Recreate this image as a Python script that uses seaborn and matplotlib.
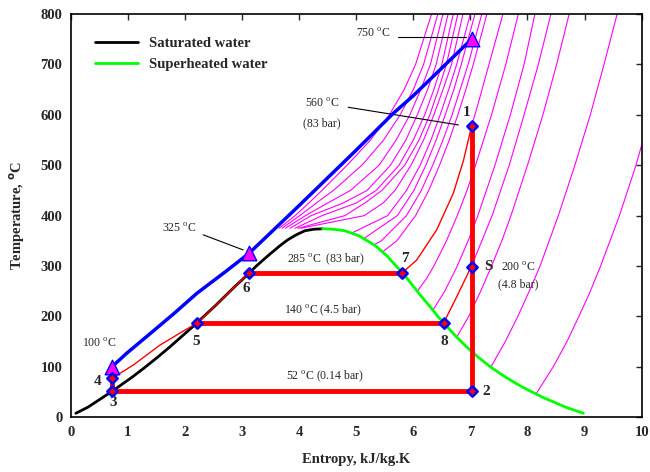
import matplotlib
matplotlib.use("Agg")
import matplotlib.pyplot as plt
import seaborn as sns

# saturation dome
sat_liq_s = [0.09, 0.30, 0.57, 0.83, 1.08, 1.31, 1.53, 1.74, 1.94, 2.14, 2.33, 2.52, 2.70, 2.88, 3.07, 3.25, 3.45, 3.66, 3.80, 3.95, 4.10, 4.25, 4.41]
sat_liq_t = [8, 20, 40, 60, 80, 100, 120, 140, 160, 180, 200, 220, 240, 260, 280, 300, 320, 340, 352, 362, 370, 373, 374]
sat_vap_s = [4.41, 4.60, 4.80, 5.05, 5.34, 5.54, 5.70, 5.86, 6.00, 6.14, 6.29, 6.43, 6.59, 6.75, 6.93, 7.13, 7.35, 7.61, 7.91, 8.26, 8.67, 8.98]
sat_vap_t = [374, 373, 370, 360, 340, 320, 300, 280, 260, 240, 220, 200, 180, 160, 140, 120, 100, 80, 60, 40, 20, 8]

# supercritical isobars (s at each temperature)
sc_temps = [375, 400, 425, 450, 500, 550, 600, 650, 700, 800]
sc_a = [3.65, 3.93, 4.17, 4.40, 4.84, 5.25, 5.58, 5.84, 6.04, 6.32]
sc_b = [3.70, 4.01, 4.30, 4.60, 5.10, 5.48, 5.77, 6.00, 6.18, 6.43]
sc_c = [3.76, 4.11, 4.50, 4.90, 5.40, 5.70, 5.94, 6.13, 6.30, 6.52]
sc_d = [3.84, 4.21, 4.77, 5.19, 5.60, 5.87, 6.07, 6.25, 6.40, 6.61]
sc_e = [3.93, 4.40, 5.00, 5.35, 5.75, 6.00, 6.20, 6.36, 6.50, 6.70]
sc_f = [3.98, 4.80, 5.15, 5.45, 5.85, 6.10, 6.29, 6.44, 6.58, 6.78]
sc_g = [4.03, 5.14, 5.47, 5.68, 5.96, 6.18, 6.36, 6.52, 6.67, 6.87]

# subcritical isobars
p200_s = [4.93, 5.55, 5.88, 6.12, 6.31, 6.47, 6.62, 6.76, 7.00]
p200_t = [366, 400, 450, 500, 550, 600, 650, 700, 800]
p175_s = [5.14, 5.72, 6.01, 6.22, 6.40, 6.56, 6.71, 6.84, 7.08]
p175_t = [355, 400, 450, 500, 550, 600, 650, 700, 800]
p150_s = [5.31, 5.44, 5.88, 6.14, 6.34, 6.52, 6.68, 6.82, 6.96, 7.20]
p150_t = [342, 350, 400, 450, 500, 550, 600, 650, 700, 800]
p125_s = [5.46, 5.71, 6.04, 6.27, 6.46, 6.63, 6.78, 6.92, 7.05, 7.29]
p125_t = [328, 350, 400, 450, 500, 550, 600, 650, 700, 800]
p70_s = [7.02, 7.13, 7.35, 7.57]
p70_t = [577, 620, 710, 800]
p40_s = [6.07, 6.23, 6.36, 6.58, 6.77, 6.94, 7.09, 7.37, 7.62, 7.84]
p40_t = [250, 275, 300, 350, 400, 450, 500, 600, 700, 800]
p20_s = [6.34, 6.55, 6.77, 6.96, 7.13, 7.28, 7.43, 7.70, 7.94, 8.13]
p20_t = [212, 250, 300, 350, 400, 450, 500, 600, 700, 800]
p12_s = [7.02, 7.38, 7.68, 7.94, 8.19, 8.41]
p12_t = [300, 400, 500, 600, 700, 800]
p6_s = [6.76, 6.97, 7.18, 7.37, 7.55, 7.71, 8.00, 8.27, 8.51, 8.73]
p6_t = [159, 200, 250, 300, 350, 400, 500, 600, 700, 800]
p1_s = [7.36, 7.61, 7.83, 8.03, 8.22, 8.54, 8.83, 9.10, 9.34, 9.57]
p1_t = [100, 150, 200, 250, 300, 400, 500, 600, 700, 800]
p01_s = [8.15, 8.17, 8.45, 8.69, 8.90, 9.10, 9.28, 9.61, 9.90, 10.0]
p01_t = [46, 50, 100, 150, 200, 250, 300, 400, 500, 540]

# blue line and triangles
blue_s = [0.72, 0.98, 1.36, 1.80, 2.21, 2.70, 3.12, 4.00, 5.00, 5.65, 6.00, 7.02]
blue_t = [100, 127, 163, 205, 246, 288, 325, 420, 530, 603, 638, 750]
tri_s = [0.72, 3.12, 7.02]
tri_t = [100, 325, 750]

# cycle
pump_s = [0.72, 1.10, 1.56, 2.00, 2.22]
pump_t = [77, 104, 143, 173, 187]
econ_s = [2.22, 2.52, 2.88, 3.13]
econ_t = [187, 220, 260, 287]
sh_hp_s = [5.81, 6.06, 6.41, 6.70, 6.88, 7.02]
sh_hp_t = [287, 312, 372, 444, 510, 577]
sh_lp_s = [6.53, 6.76, 7.02]
sh_lp_t = [187, 239, 300]
pt_names = ["1", "2", "3", "4", "5", "6", "7", "8", "S"]
pt_s = [7.02, 7.02, 0.72, 0.72, 2.22, 3.13, 5.81, 6.53, 7.02]
pt_t = [577, 52, 52, 77, 187, 287, 287, 187, 299]

sns.set_style("white")
plt.rcParams["font.family"] = ["Liberation Serif", "DejaVu Serif"]
plt.rcParams["mathtext.fontset"] = "custom"
plt.rcParams["mathtext.rm"] = "Liberation Serif"

fig = plt.figure(figsize=(6.5, 4.72), dpi=100)
ax = fig.add_axes([0.1088, 0.1159, 0.8784, 0.8544])

mag = "#FF00FF"
for s_vals in [sc_a, sc_b, sc_c, sc_d, sc_e, sc_f, sc_g]:
    sns.lineplot(x=s_vals, y=sc_temps, sort=False, estimator=None, color=mag, lw=0.8, ax=ax, zorder=1)
for s_vals, t_vals in [(p200_s, p200_t), (p175_s, p175_t), (p150_s, p150_t), (p125_s, p125_t),
                       (p70_s, p70_t), (p40_s, p40_t), (p20_s, p20_t), (p12_s, p12_t),
                       (p6_s, p6_t), (p1_s, p1_t), (p01_s, p01_t)]:
    sns.lineplot(x=s_vals, y=t_vals, sort=False, estimator=None, color=mag, lw=0.8, ax=ax, zorder=1)

sns.lineplot(x=sat_liq_s, y=sat_liq_t, sort=False, estimator=None, color="black", lw=2, ax=ax, zorder=2, label="Saturated water")
sns.lineplot(x=sat_vap_s, y=sat_vap_t, sort=False, estimator=None, color="#00FF00", lw=2, ax=ax, zorder=2, label="Superheated water")
sns.lineplot(x=blue_s, y=blue_t, sort=False, estimator=None, color="#0000FF", lw=2.5, ax=ax, zorder=3)

red = "#FF0000"
for s_vals, t_vals in [(pump_s, pump_t), (econ_s, econ_t), (sh_hp_s, sh_hp_t), (sh_lp_s, sh_lp_t)]:
    sns.lineplot(x=s_vals, y=t_vals, sort=False, estimator=None, color=red, lw=1, ax=ax, zorder=4)
# thick cycle lines
for i, j in [(0, 1), (2, 1), (2, 3), (4, 7), (5, 6)]:
    sns.lineplot(x=[pt_s[i], pt_s[j]], y=[pt_t[i], pt_t[j]], sort=False, estimator=None, color=red, lw=3.5, ax=ax, zorder=4)

sns.scatterplot(x=tri_s, y=tri_t, marker="^", s=110, color=mag, edgecolor="#0000FF", linewidth=1, ax=ax, zorder=6)
sns.scatterplot(x=pt_s, y=pt_t, marker="D", s=28, color=red, edgecolor="#0000FF", linewidth=1.8, ax=ax, zorder=6)

# point labels
lab_pos = {"1": (6.94, 604), "2": (7.27, 51), "3": (0.75, 29), "4": (0.47, 71), "5": (2.19, 150),
           "6": (3.08, 256), "7": (5.85, 315), "8": (6.54, 150), "S": (7.31, 300)}
for name in pt_names:
    x, y = lab_pos[name]
    ax.text(x, y, name, fontsize=11, fontweight="bold", ha="center", va="center")

deg = r"$^{\rm o}$C"
ax.text(5.30, 762, "750 " + deg, fontsize=8.5, ha="center", va="center")
ax.plot([5.73, 6.92], [754, 754], color="black", lw=0.8)
ax.text(4.40, 623, "560 " + deg, fontsize=8.5, ha="center", va="center")
ax.text(4.40, 583, "(83 bar)", fontsize=8.5, ha="center", va="center")
ax.plot([4.86, 6.79], [615, 580], color="black", lw=0.8)
ax.text(1.90, 374, "325 " + deg, fontsize=8.5, ha="center", va="center")
ax.plot([2.32, 3.02], [362, 332], color="black", lw=0.8)
ax.text(0.49, 147, "100 " + deg, fontsize=8.5, ha="center", va="center")
ax.text(4.47, 313, "285 " + deg + "  (83 bar)", fontsize=8.5, ha="center", va="center")
ax.text(4.42, 213, "140 " + deg + " (4.5 bar)", fontsize=8.5, ha="center", va="center")
ax.text(4.45, 82, "52 " + deg + " (0.14 bar)", fontsize=8.5, ha="center", va="center")
ax.text(7.84, 298, "200 " + deg, fontsize=8.5, ha="center", va="center")
ax.text(7.84, 264, "(4.8 bar)", fontsize=8.5, ha="center", va="center")

ax.set_xlim(0, 10)
ax.set_ylim(0, 800)
ax.set_xticks(range(0, 11))
ax.set_yticks(range(0, 801, 100))
ax.tick_params(direction="in", top=True, right=True, left=False, length=4, width=1, labelsize=10.5, pad=6)
for lbl in ax.get_xticklabels() + ax.get_yticklabels():
    lbl.set_fontweight("bold")
for sp in ax.spines.values():
    sp.set_color("black")
    sp.set_linewidth(1.2)

ax.set_xlabel("Entropy, kJ/kg.K", fontsize=10.5, fontweight="bold", labelpad=10)
ax.set_ylabel("Temperature, " + r"$^{\rm \bf o}$" + "C", fontsize=10.5, fontweight="bold", labelpad=10)

leg = ax.legend(loc="upper left", bbox_to_anchor=(0.02, 0.975), frameon=False, handlelength=2.9,
                prop={"weight": "bold", "size": 10.5}, labelspacing=0.5)

fig.savefig("out.png", dpi=100)
